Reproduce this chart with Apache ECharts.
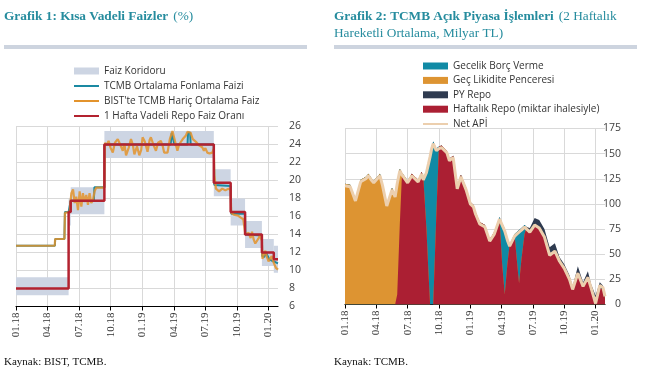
<!DOCTYPE html>
<html>
<head>
<meta charset="utf-8">
<script src="https://cdn.jsdelivr.net/npm/echarts@6/dist/echarts.min.js"></script>
<style>
html, body { margin: 0; padding: 0; background: #fff; }
#chart { width: 649px; height: 376px; }
</style>
</head>
<body>
<div id="chart"></div>
<script>
// x values are months counted from the start of 01.2018 (0 = Jan 2018, 24 = Jan 2020)
var quarterTicks = [0, 3, 6, 9, 12, 15, 18, 21, 24];

// ---- Grafik 1 : Kisa vadeli faizler ----
var repoM    = [0, 5.0, 5.2, 8.4, 18.8, 20.4, 21.77, 23.37, 24.5, 24.9];
var repoRate = [8, 16.5, 17.75, 24, 19.75, 16.5, 14, 12, 11.25, 11.25];

var corrStart = [0, 5.0, 5.2, 8.4, 18.8, 20.4, 21.77, 23.37, 24.5];
var corrEnd   = [5.0, 5.2, 8.4, 18.8, 20.4, 21.77, 23.37, 24.5, 24.9];
var corrLow   = [7.25, 15, 16.25, 22.5, 18.25, 15, 12.5, 10.5, 9.75];
var corrHigh  = [9.25, 18, 19.25, 25.5, 21.25, 18, 15.5, 13.5, 12.75];

var tcmbM    = [0, 3.7, 3.72, 4.6, 4.65, 5.0, 5.2, 7.4, 7.45, 8.4, 8.42, 14.7, 14.8, 14.95, 15.05, 16.3,
                16.35, 16.55, 16.6, 18.8, 18.85, 20.4, 20.45, 21.77, 21.8, 23.37, 23.4, 23.6, 23.75, 24.1, 24.5, 24.9];
var tcmbRate = [12.75, 12.75, 13.5, 13.5, 16.5, 16.5, 17.75, 17.75, 19.25, 19.25, 24, 24, 25.3, 25.3, 24, 24,
                25.3, 25.3, 24, 24, 19.5, 19.4, 16.3, 16.3, 14, 13.9, 11.6, 11.5, 12, 11.2, 11.0, 10.8];

var bistM = [0, 3.68, 3.72, 4.6, 4.65, 5.1, 5.26, 5.42, 5.58, 5.73,
             5.89, 6.05, 6.21, 6.36, 6.52, 6.68, 6.84, 6.99, 7.15, 7.31,
             7.47, 7.62, 8.4, 8.45, 8.6, 8.8, 9.0, 9.2, 9.4, 9.67,
             9.9, 10.15, 10.3, 10.46, 10.7, 10.93, 11.1, 11.25, 11.5, 11.72,
             11.9, 12.03, 12.25, 12.5, 12.7, 12.82, 13.05, 13.3, 13.5, 13.77,
             13.95, 14.08, 14.25, 14.4, 14.62, 14.87, 15.0, 15.12, 15.34, 15.5,
             15.66, 15.85, 15.97, 16.15, 16.29, 16.45, 16.6, 16.8, 16.92, 17.1,
             17.23, 17.4, 17.55, 17.7, 17.86, 18.0, 18.18, 18.4, 18.65, 18.8,
             18.85, 19.0, 19.15, 19.3, 19.6, 19.9, 20.2, 20.4, 20.45, 20.7,
             20.85, 21.1, 21.33, 21.6, 21.77, 21.8, 21.95, 22.1, 22.3, 22.43,
             22.6, 22.74, 22.9, 23.06, 23.2, 23.37, 23.42, 23.55, 23.7, 23.85,
             24.0, 24.15, 24.3, 24.45, 24.55, 24.7, 24.9];
var bistRate = [12.75, 12.75, 13.5, 13.5, 16.4, 16.5, 18.6, 19.0, 17.5, 18.2,
                16.7, 18.8, 17.1, 18.6, 17.6, 18.4, 17.3, 18.6, 17.5, 17.8,
                18.8, 19.2, 19.2, 24.2, 23.9, 24.4, 23.6, 23.1, 24.2, 24.6,
                24.0, 23.3, 24.1, 22.8, 23.6, 24.6, 24.0, 22.9, 23.8, 22.8,
                23.4, 24.8, 24.3, 23.2, 24.5, 24.8, 24.0, 23.3, 24.2, 24.4,
                23.8, 23.1, 23.3, 23.1, 24.6, 25.5, 24.9, 24.8, 23.3, 24.0,
                24.1, 24.6, 24.8, 25.0, 25.4, 25.2, 25.3, 24.6, 24.6, 24.3,
                24.2, 23.9, 23.8, 23.7, 23.3, 23.6, 23.1, 23.0, 23.1, 23.5,
                20.6, 19.1, 19.0, 18.8, 19.1, 18.9, 19.1, 18.9, 16.4, 16.2,
                16.3, 16.1, 15.9, 15.7, 15.8, 14.0, 13.8, 14.2, 13.6, 14.3,
                13.4, 13.0, 12.8, 13.6, 13.9, 13.3, 11.3, 11.1, 12.2, 11.5,
                11.0, 11.3, 11.6, 11.0, 10.7, 10.3, 10.1];

// ---- Grafik 2 : TCMB acik piyasa islemleri (milyar TL) ----
var apiM = [0, 0.5, 1.0, 1.5, 2.0, 2.25, 2.5, 2.75, 3.0, 3.35,
            3.6, 4.0, 4.5, 4.8, 5.0, 5.25, 5.45, 5.6, 6.0, 6.4,
            7.0, 7.35, 7.5, 7.8, 8.0, 8.15, 8.3, 8.45, 8.75, 9.0,
            9.25, 9.75, 10.0, 10.36, 10.75, 11.1, 11.6, 12.0, 12.3, 12.5,
            12.9, 13.4, 13.86, 14.3, 14.8, 15.05, 15.3, 15.55, 15.77, 16.25,
            16.45, 16.67, 16.9, 17.2, 17.4, 17.7, 18.16, 18.6, 19.1, 19.6,
            20.1, 20.55, 21.0, 21.5, 21.8, 22.3, 22.8, 23.26, 23.58, 24.0,
            24.4, 24.7, 24.9];
var haftalikRepo = [0, 0, 0, 0, 0, 0, 0, 0, 0, 0,
                    0, 0, 0, 0, 10, 80, 128, 129, 123, 130,
                    124, 132, 126, 75, 30, 0, 0, 0, 90, 157,
                    158, 153, 145, 148, 117, 129, 116, 102, 99, 92,
                    82, 79, 65, 72, 84, 40, 10, 40, 60, 68,
                    45, 21, 45, 70, 77, 73, 80, 77, 68, 50,
                    54, 44, 37, 26, 16, 32, 19, 28, 17, 0,
                    16, 15, 6];
var gecLikidite = [120, 119, 105, 124, 127, 130, 126, 123, 126, 130,
                   120, 100, 116, 109, 112, 55, 3, 0, 0, 0,
                   0, 0, 0, 0, 0, 0, 0, 0, 0, 0,
                   0, 0, 0, 0, 0, 0, 0, 0, 0, 0,
                   0, 0, 0, 0, 0, 0, 0, 0, 0, 0,
                   0, 0, 0, 0, 0, 0, 0, 0, 0, 0,
                   0, 0, 0, 0, 0, 0, 0, 0, 0, 0,
                   0, 0, 0];
var gecelikBorc = [0, 0, 0, 0, 0, 0, 0, 0, 0, 0,
                   0, 0, 0, 0, 0, 0, 0, 0, 0, 0,
                   0, 0, 0, 58, 112, 149, 157, 162, 65, 0,
                   0, 0, 0, 0, 0, 0, 0, 0, 0, 0,
                   0, 0, 0, 0, 3, 41, 65, 26, 0, 2,
                   27, 53, 31, 9, 0, 0, 0, 0, 0, 0,
                   0, 0, 0, 0, 0, 0, 0, 0, 0, 0,
                   0, 0, 0];
var pyRepo = [0, 0, 0, 0, 0, 0, 0, 0, 0, 0,
              0, 0, 0, 0, 0, 0, 0, 0, 0, 0,
              0, 0, 0, 0, 0, 0, 0, 0, 0, 0,
              0, 0, 0, 0, 0, 0, 0, 0, 0, 0,
              0, 0, 0, 0, 0, 0, 0, 0, 0, 0,
              0, 0, 0, 0, 0, 3, 6, 7, 7, 7,
              7, 3, 3, 3, 2, 6, 3, 5, 3, 9,
              6, 4, 3];
var netApi = [118, 117, 103, 122, 125, 128, 124, 121, 124, 128,
              118, 98, 114, 107, 120, 133, 129, 127, 121, 128,
              122, 130, 124, 131, 140, 147, 155, 160, 153, 155,
              156, 151, 143, 146, 115, 127, 114, 100, 97, 90,
              80, 77, 63, 70, 85, 79, 73, 64, 58, 68,
              70, 72, 74, 77, 75, 72, 79, 76, 67, 49,
              53, 43, 36, 25, 15, 31, 18, 27, 16, 1,
              19, 17, 8];

function pairs(xs, ys) {
    return xs.map(function (x, i) { return [x, ys[i]]; });
}

// running totals of the stacked components (bottom -> top)
function addUp(a, b) {
    return a.map(function (v, i) { return v + b[i]; });
}
var cumRepo  = haftalikRepo;
var cumGlp   = addUp(cumRepo, gecLikidite);
var cumGbv   = addUp(cumGlp, gecelikBorc);
var cumPy    = addUp(cumGbv, pyRepo);

function monthLabel(m) {
    var mo = Math.round(m) % 12 + 1;
    var yr = 18 + Math.floor(Math.round(m) / 12);
    return (mo < 10 ? '0' : '') + mo + '.' + yr;
}

var titleColor = '#268c9e';
var serif = '"Liberation Serif", "Times New Roman", serif';
var sans = '"Open Sans", "Liberation Sans", sans-serif';
var gridColor = '#d9d9d9';

function timeAxis(idx) {
    return {
        type: 'value',
        gridIndex: idx,
        min: 0,
        max: 24.9,
        axisLine: { show: true, onZero: false, lineStyle: { color: '#000', width: 1.2 } },
        axisTick: { show: true, customValues: quarterTicks, length: 4, lineStyle: { color: '#000' } },
        axisLabel: {
            customValues: quarterTicks,
            rotate: 90,
            margin: 6,
            formatter: monthLabel,
            fontFamily: serif,
            fontSize: 11,
            color: '#333'
        },
        splitLine: { show: true, lineStyle: { color: gridColor } }
    };
}

var chart = echarts.init(document.getElementById('chart'));

var corridorAreas = corrStart.map(function (s, i) {
    return [{ xAxis: s, yAxis: corrLow[i] }, { xAxis: corrEnd[i], yAxis: corrHigh[i] }];
});

// each band is filled down to zero, higher totals sit behind lower ones
function areaSeries(name, values, color, z) {
    return {
        name: name,
        type: 'line',
        xAxisIndex: 1,
        yAxisIndex: 1,
        color: color,
        z: z,
        showSymbol: false,
        lineStyle: { width: 0 },
        areaStyle: { color: color, opacity: 1 },
        data: pairs(apiM, values)
    };
}

var legendText = { fontFamily: sans, fontSize: 10, color: '#333', lineHeight: 12 };
var titleBold = { fontFamily: serif, fontWeight: 'bold', fontSize: 13.3, color: titleColor, lineHeight: 15 };
var titleNormal = { fontFamily: serif, fontWeight: 'normal', fontSize: 13.3, color: titleColor, lineHeight: 15 };

var option = {
    animation: false,
    title: [{
        left: 4, top: 8, padding: 0,
        text: '{b|Grafik 1: Kısa Vadeli Faizler} {n|(%)}',
        textStyle: { fontWeight: 'normal', rich: { b: titleBold, n: titleNormal } }
    }, {
        left: 334, top: 8, padding: 0,
        text: '{b|Grafik 2: TCMB Açık Piyasa İşlemleri} {n|(2 Haftalık}\n{n|Hareketli Ortalama, Milyar TL)}',
        textStyle: { fontWeight: 'normal', rich: { b: titleBold, n: titleNormal } }
    }],
    legend: [{
        left: 69, top: 60, orient: 'vertical', selectedMode: false,
        icon: 'rect', itemWidth: 25, itemHeight: 7, itemGap: 3,
        itemStyle: { borderWidth: 0 },
        textStyle: legendText,
        data: ['Faiz Koridoru']
    }, {
        left: 69, top: 75, orient: 'vertical', selectedMode: false,
        icon: 'rect', itemWidth: 25, itemHeight: 2, itemGap: 3,
        itemStyle: { borderWidth: 0 },
        textStyle: legendText,
        data: ['TCMB Ortalama Fonlama Faizi', "BIST'te TCMB Hariç Ortalama Faiz", '1 Hafta Vadeli Repo Faiz Oranı']
    }, {
        left: 418, top: 55, orient: 'vertical', selectedMode: false,
        icon: 'rect', itemWidth: 25, itemHeight: 7, itemGap: 2.4,
        itemStyle: { borderWidth: 0 },
        textStyle: legendText,
        data: ['Gecelik Borç Verme', 'Geç Likidite Penceresi', 'PY Repo', 'Haftalık Repo (miktar ihalesiyle)']
    }, {
        left: 418, top: 113, orient: 'vertical', selectedMode: false,
        icon: 'rect', itemWidth: 25, itemHeight: 2,
        itemStyle: { borderWidth: 0 },
        textStyle: legendText,
        data: ['Net APİ']
    }],
    grid: [
        { left: 16, top: 126.5, width: 262, height: 180 },
        { left: 345, top: 128.5, width: 260, height: 176 }
    ],
    xAxis: [timeAxis(0), timeAxis(1)],
    yAxis: [{
        type: 'value', gridIndex: 0, position: 'right',
        min: 6, max: 26, interval: 2,
        axisLine: { show: false }, axisTick: { show: false },
        axisLabel: { margin: 11, fontFamily: sans, fontSize: 10.5, color: '#404040' },
        splitLine: { lineStyle: { color: gridColor } }
    }, {
        type: 'value', gridIndex: 1, position: 'right',
        min: 0, max: 175, interval: 25,
        axisLine: { show: false }, axisTick: { show: false },
        axisLabel: { margin: 16, align: 'right', fontFamily: sans, fontSize: 10.5, color: '#404040' },
        splitLine: { lineStyle: { color: gridColor } }
    }],
    graphic: [
        { type: 'rect', shape: { x: 4, y: 45, width: 303, height: 4 }, style: { fill: '#cdd4df' } },
        { type: 'rect', shape: { x: 334, y: 45, width: 303, height: 4 }, style: { fill: '#cdd4df' } },
        { type: 'text', left: 4, top: 357, style: { text: 'Kaynak: BIST, TCMB.', font: '11px ' + serif, fill: '#111' } },
        { type: 'text', left: 334, top: 357, style: { text: 'Kaynak: TCMB.', font: '11px ' + serif, fill: '#111' } }
    ],
    series: [{
        name: 'Faiz Koridoru',
        type: 'line',
        color: '#cdd5e3',
        z: 1,
        showSymbol: false,
        step: 'end',
        lineStyle: { opacity: 0 },
        data: pairs(repoM, repoRate),
        markArea: { silent: true, itemStyle: { color: '#cdd5e3' }, data: corridorAreas }
    }, {
        name: 'TCMB Ortalama Fonlama Faizi',
        type: 'line',
        color: '#1a89a2',
        z: 2,
        showSymbol: false,
        lineStyle: { width: 2 },
        data: pairs(tcmbM, tcmbRate)
    }, {
        name: "BIST'te TCMB Hariç Ortalama Faiz",
        type: 'line',
        color: '#e3932c',
        z: 3,
        showSymbol: false,
        lineStyle: { width: 2.2, opacity: 0.85 },
        data: pairs(bistM, bistRate)
    }, {
        name: '1 Hafta Vadeli Repo Faiz Oranı',
        type: 'line',
        color: '#b3222f',
        z: 4,
        showSymbol: false,
        step: 'end',
        lineStyle: { width: 2.5 },
        data: pairs(repoM, repoRate)
    },
    areaSeries('PY Repo', cumPy, '#2f3b50', 2),
    areaSeries('Gecelik Borç Verme', cumGbv, '#108aa5', 3),
    areaSeries('Geç Likidite Penceresi', cumGlp, '#dd9432', 4),
    areaSeries('Haftalık Repo (miktar ihalesiyle)', cumRepo, '#ab1f33', 5),
    {
        name: 'Net APİ',
        type: 'line',
        xAxisIndex: 1,
        yAxisIndex: 1,
        color: '#eccfae',
        z: 6,
        showSymbol: false,
        lineStyle: { width: 3 },
        data: pairs(apiM, netApi)
    }]
};

chart.setOption(option);
</script>
</body>
</html>
